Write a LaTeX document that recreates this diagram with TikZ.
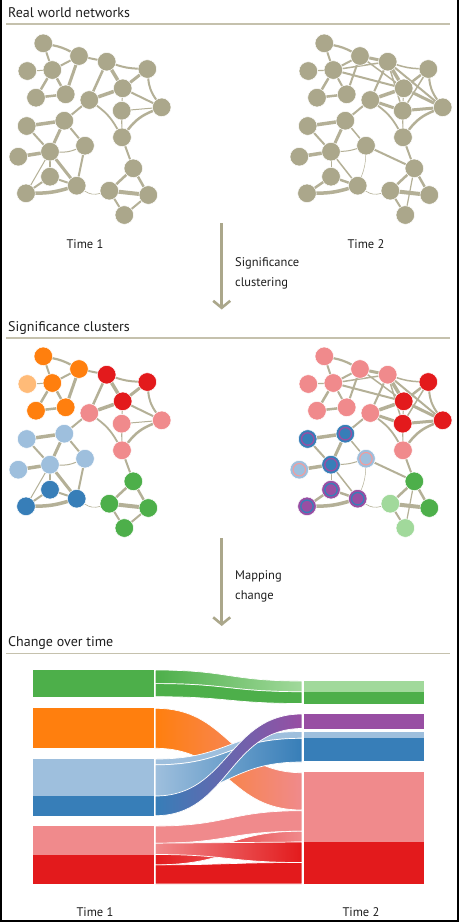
\documentclass[tikz,border=0pt]{standalone}
\usepackage{fontspec}
\setmainfont{PT Sans}
\usetikzlibrary{arrows.meta}
\pgfdeclarelayer{bottom}
\pgfdeclarelayer{background}
\pgfsetlayers{bottom,background,main}
\definecolor{netgray}{HTML}{ABA78B}
\definecolor{edgegray}{HTML}{B4B097}
\definecolor{rulegray}{HTML}{C5C1AD}
\definecolor{cgreen}{HTML}{4DAF4A}
\definecolor{clgreen}{HTML}{A1D99B}
\definecolor{corange}{HTML}{FF7F0E}
\definecolor{clorange}{HTML}{FFBB78}
\definecolor{clblue}{HTML}{9EBFDD}
\definecolor{cblue}{HTML}{377EB8}
\definecolor{cpurple}{HTML}{984EA3}
\definecolor{cpink}{HTML}{F08A8C}
\definecolor{cred}{HTML}{E31A1C}
\definecolor{txt}{HTML}{1E1E1E}
\def\poslist{A/43.3/43.3, B/79/56, C/27.3/71, D/52.3/70, E/106.7/61.7, F/147.3/69, G/36/97.7, H/65.7/94.3, I/89.3/100, J/122.7/88.3, K/161.7/107.3, L/121.7/110.7, M/26.7/126, N/64.3/120.7, O/122/137.3, P/85/145.7, Q/50/151.7, R/18.3/156.7, S/133.3/168.3, T/50/176.7, U/76.7/185.7, V/26/193.3, W/109.3/190.7, X/148.3/195, Y/124.3/215}
\def\edgesone{A/B/2.2/8, A/D/2/0, C/D/1/0, D/B/2/0, D/G/2.5/0, D/H/2.5/0, G/H/2.5/0, B/H/3/0, B/E/2/0, E/I/2.5/0, E/J/3.5/0, E/F/2/-8, F/J/3/0, F/K/2/-15, J/I/3.5/0, J/L/1/0, J/K/2/0, L/K/1/0, L/O/1.2/0, K/O/2.5/-15, I/O/1.8/12, I/N/2/0, N/M/3.5/0, N/Q/3/0, N/P/2/0, M/Q/2/0, R/Q/3.5/0, P/Q/1/12, P/U/2/0, Q/T/1.5/0, Q/V/1/0, Q/U/3/0, T/V/2/0, T/U/2/0, V/U/3.5/-8, U/W/0.6/-25, O/S/2/0, S/W/2.5/0, S/X/2.5/0, W/X/4/0, W/Y/2/0, X/Y/2/0}
\def\edgestwo{A/B/2.2/8, A/D/2/0, C/D/1.2/0, D/B/2/0, D/G/2.5/0, D/H/2/0, G/H/2.5/0, B/H/2/0, B/E/3/0, D/E/1.5/0, D/J/2/0, B/J/1.5/0, E/I/2/0, E/J/3.5/0, E/F/1.5/-8, E/L/1.5/0, E/K/2/0, F/J/2.5/0, F/K/2/-15, F/L/1.5/0, J/I/3.5/0, J/L/1/0, J/K/3/0, L/K/3/0, I/L/3/0, L/O/1.2/0, K/O/2.5/-15, I/O/1.8/12, I/N/2/0, N/M/3.5/0, N/Q/3/0, N/P/1.5/0, M/Q/2/0, R/Q/3.5/0, P/Q/1/8, P/U/0.5/10, P/S/2/0, Q/T/1/0, Q/U/1.5/0, T/U/2.5/0, V/U/3.5/-8, T/V/2.5/0, U/W/0.6/-25, O/S/2/0, S/W/2.5/0, S/X/2.5/0, S/Y/1.2/0, W/X/4/0, W/Y/2/0}
\newcommand\netpanel[4]{%
  \begin{scope}[shift={#2}]
    \foreach \n/\x/\y in \poslist {\coordinate (#1\n) at (\x,\y);}
    \foreach \n/\s in {#3} {\node[netnode,\s] (#1\n-n) at (#1\n) {};}
    \begin{pgfonlayer}{background}
      \foreach \a/\b/\w/\bnd in #4 {\draw[edge, line width=\w pt] (#1\a-n) to[bend left=\bnd] (#1\b-n);}
    \end{pgfonlayer}
  \end{scope}}
\newcommand\flow[6]{%
  \shadedraw[draw=white, line width=0.7pt, left color=#1, right color=#2]
    (155.3,#3) .. controls (228.6,#3) and (228.6,#5) .. (301.9,#5)
    -- (301.9,#6) .. controls (228.6,#6) and (228.6,#4) .. (155.3,#4) -- cycle;}
\begin{document}
\begin{tikzpicture}[x=1pt,y=-1pt,
  netnode/.style={circle, inner sep=0pt, minimum size=18.6pt, draw=white, line width=0.5pt},
  ngray/.style={fill=netgray}, nor/.style={fill=corange}, nlor/.style={fill=clorange},
  nred/.style={fill=cred}, npink/.style={fill=cpink}, nlb/.style={fill=clblue},
  nb/.style={fill=cblue}, ngr/.style={fill=cgreen}, nlgr/.style={fill=clgreen},
  rb/.style={fill=cblue, path picture={\draw[cpurple, line width=1.3pt] (path picture bounding box.center) circle (6.2pt);}},
  rlb/.style={fill=clblue, path picture={\draw[cpink!85!white, line width=1.1pt] (path picture bounding box.center) circle (6.2pt);}},
  rpu/.style={fill=cpurple, path picture={\draw[cblue, line width=1.3pt] (path picture bounding box.center) circle (6.2pt);}},
  edge/.style={draw=edgegray, line cap=round},
  ttl/.style={anchor=base west, font=\fontsize{14}{16}\selectfont, text=txt, inner sep=0pt},
  lbl/.style={anchor=base west, font=\fontsize{12.5}{14}\selectfont, text=txt, inner sep=0pt},
  timelbl/.style={anchor=base, font=\fontsize{12.5}{14}\selectfont, text=txt, inner sep=0pt},
  rule/.style={draw=rulegray, line width=1.5pt},
  flowarrow/.style={draw=netgray, line width=2.6pt, -{Straight Barb[length=7pt,width=17pt]}}
]
\useasboundingbox (0,0) rectangle (459,922);
\begin{pgfonlayer}{bottom}
\fill[white] (0,0) rectangle (459,922);
\end{pgfonlayer}
% frame
\fill[black] (0,0) rectangle (2,922);
\fill[black] (456.8,0) rectangle (459,922);
\fill[black] (0,919.8) rectangle (459,922);

% ---- section 1
\node[ttl] (t1) at (8,17.5) {Real world networks};
\coordinate (r1a) at (6,24); \coordinate (r1b) at (450,24);
\draw[rule] (r1a) -- (r1b);
\netpanel{p1}{(0,0)}{A/ngray, B/ngray, C/ngray, D/ngray, E/ngray, F/ngray, G/ngray, H/ngray, I/ngray, J/ngray, K/ngray, L/ngray, M/ngray, N/ngray, O/ngray, P/ngray, Q/ngray, R/ngray, S/ngray, T/ngray, U/ngray, V/ngray, W/ngray, X/ngray, Y/ngray}{\edgesone}
\netpanel{p2}{(281,0)}{A/ngray, B/ngray, C/ngray, D/ngray, E/ngray, F/ngray, G/ngray, H/ngray, I/ngray, J/ngray, K/ngray, L/ngray, M/ngray, N/ngray, O/ngray, P/ngray, Q/ngray, R/ngray, S/ngray, T/ngray, U/ngray, V/ngray, W/ngray, X/ngray, Y/ngray}{\edgestwo}
\node[timelbl] (tm1) at (85,248) {Time 1};
\node[timelbl] (tm2) at (366,248) {Time 2};

% arrow 1
\coordinate (a1s) at (221.7,223); \coordinate (a1e) at (221.7,309.5);
\draw[flowarrow] (a1s) -- (a1e);
\node[lbl] (al1) at (235,266.5) {Significance};
\node[lbl] (al2) at (235,286.5) {clustering};

% ---- section 2
\node[ttl] (t2) at (8,331.5) {Significance clusters};
\coordinate (r2a) at (6,338); \coordinate (r2b) at (450,338);
\draw[rule] (r2a) -- (r2b);
\netpanel{p3}{(0,313)}{A/nor, B/nor, C/nlor, D/nor, E/nred, F/nred, G/nor, H/nor, I/npink, J/nred, K/npink, L/npink, M/nlb, N/nlb, O/npink, P/nlb, Q/nlb, R/nlb, S/ngr, T/nb, U/nb, V/nb, W/ngr, X/ngr, Y/ngr}{\edgesone}
\netpanel{p4}{(281,313)}{A/npink, B/npink, C/npink, D/npink, E/npink, F/nred, G/npink, H/npink, I/npink, J/nred, K/nred, L/nred, M/rb, N/rb, O/npink, P/rlb, Q/rb, R/rlb, S/ngr, T/rpu, U/rpu, V/rpu, W/nlgr, X/ngr, Y/nlgr}{\edgestwo}

% arrow 2
\coordinate (a2s) at (221.7,538); \coordinate (a2e) at (221.7,626);
\draw[flowarrow] (a2s) -- (a2e);
\node[lbl] (am1) at (235,579.3) {Mapping};
\node[lbl] (am2) at (235,599.3) {change};

% ---- section 3
\node[ttl] (t3) at (8,646.8) {Change over time};
\coordinate (r3a) at (6,653.3); \coordinate (r3b) at (450,653.3);
\draw[rule] (r3a) -- (r3b);

% left bars
\fill[cgreen]  (33.3,670)   rectangle (153.5,696.7);
\fill[corange] (33.3,708.3) rectangle (153.5,748.3);
\fill[clblue]  (33.3,759)   rectangle (153.5,796);
\fill[cblue]   (33.3,796)   rectangle (153.5,815.7);
\fill[cpink]   (33.3,826)   rectangle (153.5,854.5);
\fill[cred]    (33.3,854.5) rectangle (153.5,884);
% right bars
\fill[clgreen] (303.7,681)   rectangle (424,691.7);
\fill[cgreen]  (303.7,691.7) rectangle (424,703.5);
\fill[cpurple] (303.7,714)   rectangle (424,728.5);
\fill[clblue]  (303.7,731.5) rectangle (424,738.3);
\fill[cblue]   (303.7,738.3) rectangle (424,761.3);
\fill[cpink]   (303.7,772.3) rectangle (424,842);
\fill[cred]    (303.7,842)   rectangle (424,884);

% flows
\flow{cgreen}{clgreen}{670}{683.6}{681}{691.7}
\flow{cgreen}{cgreen}{683.6}{696.7}{691.7}{703.5}
\flow{corange}{cpink}{708.3}{748.3}{772.7}{810}
\flow{clblue}{clblue}{759}{764.8}{731.5}{738.3}
\flow{clblue}{cblue}{764.8}{796}{738.3}{762}
\flow{cblue}{cpurple}{796}{815.7}{714}{728.5}
\flow{cpink}{cpink}{826}{843.2}{810.7}{831.2}
\flow{cred}{cred}{864.8}{884}{862.5}{884}
\flow{cred}{cpink}{854.5}{864.8}{831.2}{842}
\flow{cpink}{cred}{843.2}{854.5}{842}{862.5}

\node[timelbl] (tm3) at (95,916) {Time 1};
\node[timelbl] (tm4) at (361,916) {Time 2};
\end{tikzpicture}
\end{document}
